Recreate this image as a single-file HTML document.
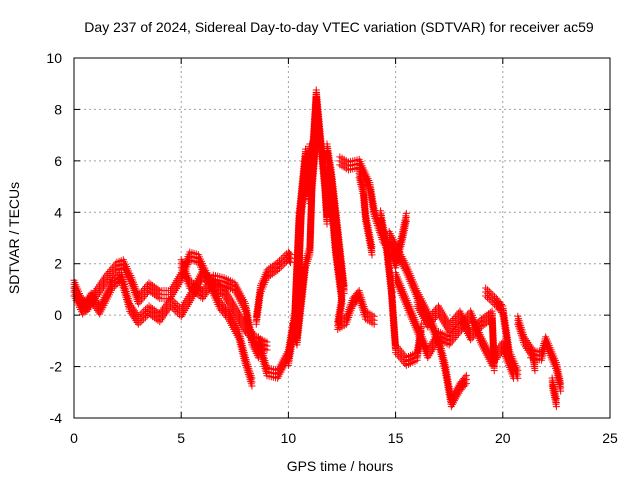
<!DOCTYPE html>
<html><head><meta charset="utf-8"><style>
body{margin:0;background:#fff}
svg{display:block;font-family:"Liberation Sans",sans-serif}
</style></head><body>
<svg id="chart" width="640" height="480" viewBox="0 0 640 480">
<rect width="640" height="480" fill="#fff"/>
<text x="339" y="32" font-size="14" text-anchor="middle">Day 237 of 2024, Sidereal Day-to-day VTEC variation (SDTVAR) for receiver ac59</text>
<text x="340" y="471" font-size="14" text-anchor="middle">GPS time / hours</text>
<text transform="translate(19,238) rotate(-90)" font-size="14" text-anchor="middle">SDTVAR / TECUs</text>
<g id="grid"></g><g id="marks"></g><g id="axes"></g>
</svg>
<script>
const xTicks=[0,5,10,15,20,25];
const yTicks=[-4,-2,0,2,4,6,8,10];
const trackA=[[0,1.2],[0.3,0.6],[0.6,0.3],[1,0.8],[1.5,1.4],[2,1.9],[2.3,2.0],[2.7,1.3],[3,0.6],[3.5,1.1],[4,0.8],[4.5,0.8],[5,1.5],[5.4,2.3],[5.8,2.2],[6.2,1.5],[6.8,0.4],[7.2,0],[7.7,-0.8],[8,-1.8],[8.3,-2.6]];
const trackB=[[0,0.9],[0.4,0.2],[0.8,0.7],[1.2,0.2],[1.5,0.7],[1.8,1.2],[2.2,1.5],[2.6,0.3],[3,-0.2],[3.5,0.2],[4,-0.1],[4.5,0.5],[5,0.1],[5.5,0.8],[6,1.6],[6.5,1.2],[7,0.9],[7.5,0.2],[8,-0.5],[8.5,-1.0],[9,-1.2]];
const trackB2=[[5,2.0],[5.4,1.2],[6,0.8],[6.5,1.4],[7,1.3],[7.5,1.1],[8,0.3],[8.3,-1.0],[8.6,-1.5]];
const trackC=[[8.5,-0.2],[8.7,1.0],[9,1.6],[9.5,1.9],[10,2.3],[10.1,2.2]];
const trackD=[[8.6,-1.0],[9,-2.2],[9.5,-2.3],[10,-1.5],[10.3,0],[10.5,3.8],[10.8,6.3],[11,4.5],[11.3,8.6],[11.5,6.8],[11.7,5.0],[11.8,3.7]];
const trackD2=[[10,-1.8],[10.2,-0.8],[10.4,0.0],[10.5,2],[10.6,4],[10.8,5.5],[11,6.5]];
const trackE=[[10.2,-0.5],[10.4,-1.0],[10.6,0.5],[10.8,2.0],[11,2.5],[11.1,5.0],[11.3,7.0]];
const trackF=[[11.8,5.5],[12.0,4.5],[12.2,2.5],[12.5,0.6],[12.3,-0.4],[12.7,-0.2],[13,0.5],[13.3,0.8],[13.6,0],[14,-0.2]];
const trackF2=[[11.8,6.5],[12.0,5.5],[12.2,4.0],[12.4,2.5],[12.6,1.0]];
const trackG=[[12.4,6],[12.8,5.8],[13.3,5.9],[13.8,5.0],[14,4.0],[14.4,3.0],[14.8,2.5],[15,2.0],[15.3,3.0],[15.5,3.8]];
const trackG2=[[13.3,5.5],[13.5,4.8],[13.6,3.8],[13.9,2.5]];
const trackH=[[14.3,3.9],[14.6,2.5],[14.8,1.0],[15,-1.3],[15.5,-1.8],[16,-1.6],[16.2,-0.5]];
const trackI=[[14.7,3.1],[15.5,1.8],[16,0.8],[16.5,0],[17,-1],[17.3,-2],[17.6,-3.4],[18,-2.8],[18.3,-2.5]];
const trackI2=[[15,1.5],[15.5,0.5],[16,-0.5],[16.5,-1.5],[17,-0.8],[17.5,-1],[18,-0.5],[18.5,0],[19,-1],[19.5,-1.8],[20,-1.2],[20.5,-2.3]];
const trackJ=[[16,0.5],[16.5,-0.3],[17,0.2],[17.5,-0.5],[18,0],[18.5,-0.8],[19,-0.3],[19.5,0],[19.6,-2.0]];
const trackK=[[19.2,0.9],[19.7,0.5],[20,0.2],[20.3,-1.5],[20.7,-2.3]];
const trackK2=[[20.7,-0.2],[21,-1.0],[21.4,-1.5],[21.5,-2.0]];
const trackL=[[21.3,-1.5],[21.8,-1.6],[22,-1.0],[22.5,-2.0],[22.7,-2.8]];
const trackL2=[[22.3,-2.6],[22.5,-3.4]];
const tracks=[trackA,trackB,trackB2,trackC,trackD,trackD2,trackE,trackF,trackF2,trackG,trackG2,trackH,trackI,trackI2,trackJ,trackK,trackK2,trackL,trackL2];
const X0=74,X1=610,Y0=418,Y1=58;
const sx=h=>X0+(h-0)/25*(X1-X0);
const sy=v=>Y0-(v+4)/14*(Y0-Y1);
const NS="http://www.w3.org/2000/svg";
const grid=document.getElementById('grid'),axes=document.getElementById('axes'),marks=document.getElementById('marks');
function mk(t,a,p){const e=document.createElementNS(NS,t);for(const k in a)e.setAttribute(k,a[k]);p.appendChild(e);return e;}
xTicks.forEach(t=>{const x=sx(t);
 if(t>0&&t<25){const g=mk('line',{x1:x,x2:x,y1:Y0,y2:Y1,stroke:'#a0a0a0','stroke-dasharray':'2,3'},grid);
 
 }
 mk('line',{x1:x,x2:x,y1:Y0,y2:Y0-6,stroke:'#000'},axes);mk('line',{x1:x,x2:x,y1:Y1,y2:Y1+6,stroke:'#000'},axes);
 const l=mk('text',{x:x,y:Y0+25,'font-size':14,'text-anchor':'middle'},axes);l.textContent=t;
 
 });
yTicks.forEach(t=>{const y=sy(t);
 if(t>-4&&t<10){const g=mk('line',{x1:X0,x2:X1,y1:y,y2:y,stroke:'#a0a0a0','stroke-dasharray':'2,3'},grid);
 
 }
 mk('line',{x1:X0,x2:X0+6,y1:y,y2:y,stroke:'#000'},axes);mk('line',{x1:X1,x2:X1-6,y1:y,y2:y,stroke:'#000'},axes);
 const l=mk('text',{x:X0-12,y:y+5,'font-size':14,'text-anchor':'end'},axes);l.textContent=t;
 
 });
const frame=mk('rect',{x:X0,y:Y1,width:X1-X0,height:Y0-Y1,fill:'none',stroke:'#000'},axes);


tracks.forEach((tr,i)=>{
 let d='';
 for(let k=0;k<tr.length-1;k++){
  const x1=sx(tr[k][0]),y1=sy(tr[k][1]),x2=sx(tr[k+1][0]),y2=sy(tr[k+1][1]);
  const n=Math.max(1,Math.ceil(Math.hypot(x2-x1,y2-y1)/2.5));
  for(let s=0;s<=n;s++){const x=x1+(x2-x1)*s/n,y=y1+(y2-y1)*s/n;
   [-4,0,4].forEach(o=>{d+=`M${x-3.5},${y+o}h7M${x},${y+o-3.5}v7`;});}
 }
 const p=mk('path',{d:d,stroke:'#ff0000','stroke-width':1,fill:'none'},marks);
 
 
});
</script>
</body></html>
